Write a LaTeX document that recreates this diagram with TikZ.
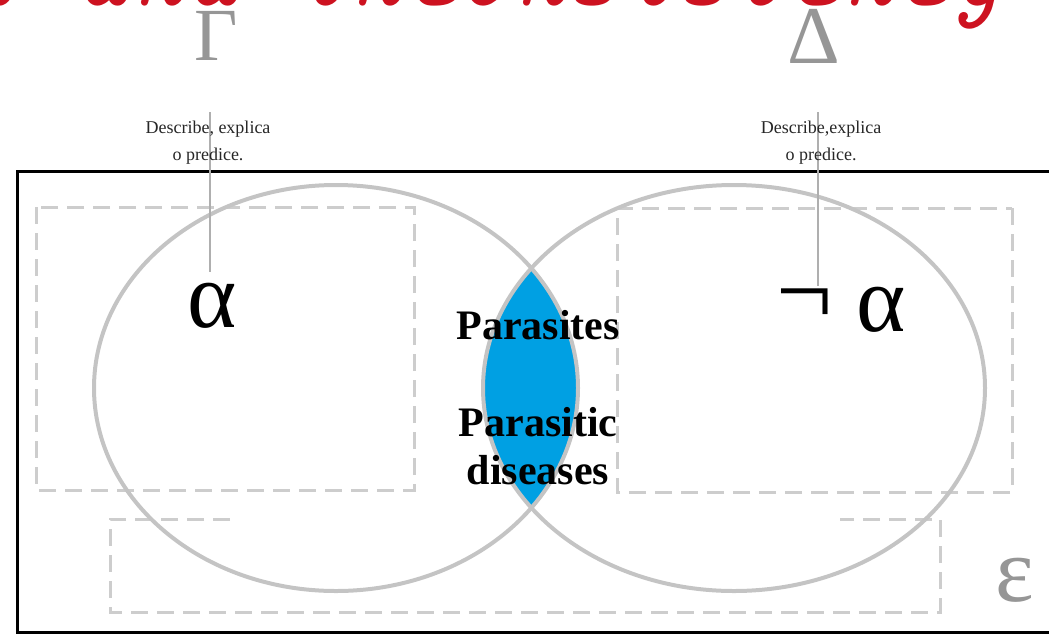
\documentclass[tikz,border=0pt]{standalone}
\usepackage{fontspec}
\setmainfont{Liberation Serif}
\definecolor{lensblue}{RGB}{0,160,227}
\definecolor{ringgray}{RGB}{196,196,196}
\definecolor{dashgray}{RGB}{205,205,205}
\definecolor{symgray}{RGB}{150,150,150}
\definecolor{linegray}{RGB}{175,175,175}
\definecolor{titlered}{RGB}{205,18,32}
\tikzset{
  ring/.style={draw=ringgray, line width=4pt},
  dbox/.style={draw=dashgray, line width=3pt, dash pattern=on 17pt off 9pt},
  symb/.style={text=symgray, inner sep=0pt, font=\fontsize{75}{80}\selectfont},
  desc/.style={align=center, inner sep=0pt, text=black!85, font=\fontsize{18}{27}\selectfont},
  bigsym/.style={inner sep=0pt, font=\fontsize{94}{96}\selectfont},
  lens/.style={inner sep=0pt, font=\fontsize{42}{48}\selectfont\bfseries, align=center},
  pointer/.style={draw=linegray, line width=2pt}
}
\begin{document}
\begin{tikzpicture}[x=1pt,y=-1pt]
\useasboundingbox (0,0) rectangle (1049,635);
\clip (0,0) rectangle (1049,635);
% title fragment (clipped)
\node[anchor=base east, inner sep=0pt, text=titlered, font=\fontsize{104}{108}\selectfont\ttfamily\itshape] (title) at (1002,5) {al and inconsistency};
% outer frame
\draw[line width=3pt, black] (1060,171) -- (17,171) -- (17,632) -- (1060,632);
% dashed boxes
\draw[dbox] (36,207) rectangle (414,490);
\draw[dbox] (1012,208) rectangle (617,492);
\draw[dbox] (230,519) -- (110,519) -- (110,612) -- (940,612) -- (940,519) -- (840,519);
% lens
\begin{scope}
  \clip (336,388) ellipse [x radius=242pt, y radius=203pt];
  \fill[lensblue] (734,388) ellipse [x radius=251pt, y radius=203pt];
\end{scope}
% circles
\draw[ring] (336,388) ellipse [x radius=242pt, y radius=203pt];
\draw[ring] (734,388) ellipse [x radius=251pt, y radius=203pt];
% Greek symbols
\node[symb] (gamma) at (216,36) {Γ};
\node[symb, font=\fontsize{82}{86}\selectfont] (delta) at (814,36) {Δ};
\node[symb, font=\fontsize{92}{94}\selectfont] (eps) at (1015,580) {ε};
% pointers
\coordinate (ltop) at (210,112);
\coordinate (lbot) at (210,272);
\coordinate (rtop) at (818,112);
\coordinate (rbot) at (818,286);
\draw[pointer] (ltop) -- (lbot);
\draw[pointer] (rtop) -- (rbot);
% descriptions
\node[desc] (dl) at (208,143) {Describe, explica\\o predice.};
\node[desc] (dr) at (821,143) {Describe,explica\\o predice.};
% alpha / not alpha
\node[bigsym] (a) at (212,306) {α};
\node[bigsym] (na) at (881,310) {α};
\node[bigsym, font=\fontsize{100}{104}\selectfont] (neg) at (805,307) {¬};
% lens labels
\node[lens] (p1) at (538,325) {Parasites};
\node[lens] (p2) at (538,446) {Parasitic\\diseases};
\end{tikzpicture}
\end{document}
